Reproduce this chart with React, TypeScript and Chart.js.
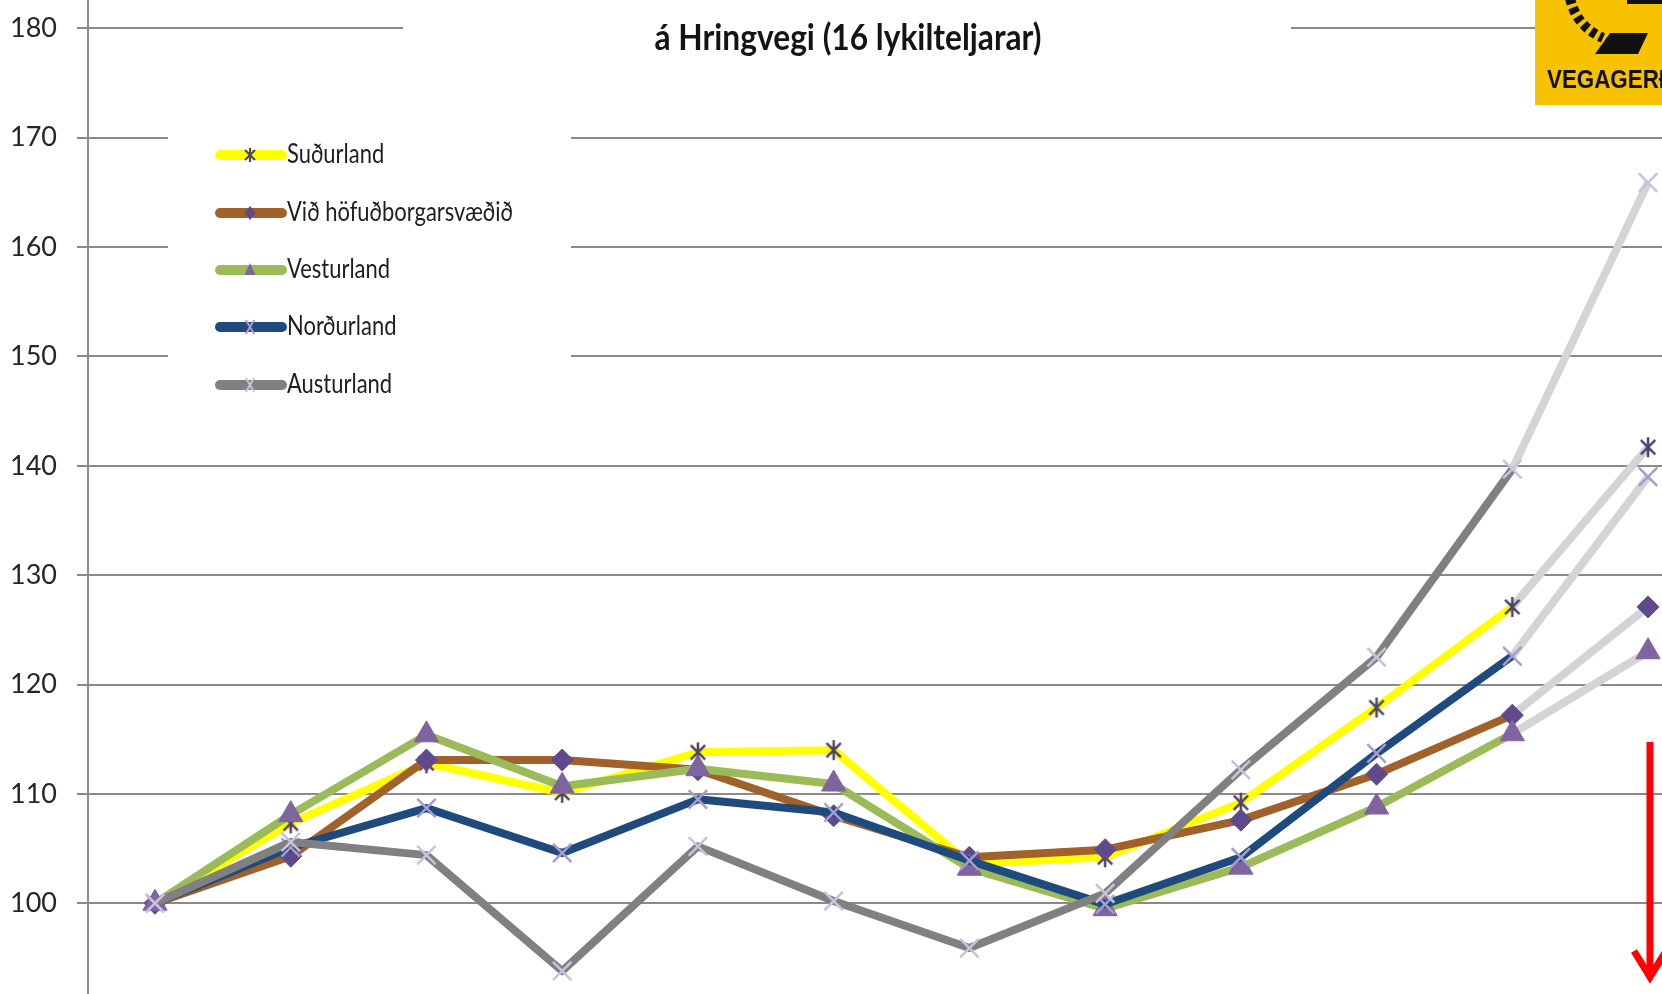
import React, { useEffect, useRef } from 'react';
import { Chart, registerables } from 'chart.js';

Chart.register(...registerables);

// ---- data ----
const categories = [0, 1, 2, 3, 4, 5, 6, 7, 8, 9, 10, 11]; // periods (axis labels cropped away)
const seriesNames = ['Suðurland', 'Við höfuðborgarsvæðið', 'Vesturland', 'Norðurland', 'Austurland'];
const sudurland = [100, 107.3, 112.8, 110.1, 113.8, 114.0, 103.6, 104.2, 109.2, 117.9, 127.1, 141.7];
const vidHofudborgarsvaedid = [100, 104.3, 113.1, 113.1, 112.2, 108.0, 104.2, 104.9, 107.6, 111.8, 117.2, 127.1];
const vesturland = [100, 108.1, 115.4, 110.7, 112.3, 110.9, 103.2, 99.5, 103.3, 108.8, 115.5, 123.0];
const nordurland = [100, 105.1, 108.7, 104.6, 109.5, 108.3, 103.9, 99.9, 104.2, 113.7, 122.6, 139.0];
const austurland = [100, 105.6, 104.4, 93.8, 105.2, 100.2, 95.9, 100.9, 112.2, 122.5, 139.7, 165.9];
const yTickValues = [100, 110, 120, 130, 140, 150, 160, 170, 180];
const titleText = 'á Hringvegi (16 lykilteljarar)';
const logoText = 'VEGAGERÐIN';

// ---- styles ----
const W = 1662;
const H = 994;
const lineColors = ['#FFFF00', '#A0612B', '#9BBB59', '#1F4A7E', '#808080'];
const markerColors = ['#4E4270', '#5F4A8B', '#8064A2', '#A79CCF', '#C9C2DC'];
const projColor = '#D4D4D4';
const gridColor = '#8A8A8A';

function makeStar(color: string, size: number, lw: number) {
  const c = document.createElement('canvas');
  c.width = size;
  c.height = size;
  const g = c.getContext('2d')!;
  g.strokeStyle = color;
  g.lineWidth = lw;
  const m = size / 2;
  const r = size / 2 - 2;
  const d = r * 0.72;
  g.beginPath();
  g.moveTo(m - d, m - d);
  g.lineTo(m + d, m + d);
  g.moveTo(m + d, m - d);
  g.lineTo(m - d, m + d);
  g.moveTo(m, m - r);
  g.lineTo(m, m + r);
  g.stroke();
  return c;
}

function drawMarker(ctx: CanvasRenderingContext2D, k: number, x: number, y: number, r: number) {
  ctx.save();
  ctx.fillStyle = markerColors[k];
  ctx.strokeStyle = markerColors[k];
  ctx.lineWidth = 2;
  ctx.beginPath();
  if (k === 0) {
    const d = r * 0.72;
    ctx.moveTo(x - d, y - d); ctx.lineTo(x + d, y + d);
    ctx.moveTo(x + d, y - d); ctx.lineTo(x - d, y + d);
    ctx.moveTo(x, y - r); ctx.lineTo(x, y + r);
    ctx.stroke();
  } else if (k === 1) {
    ctx.moveTo(x, y - r); ctx.lineTo(x + r * 0.8, y); ctx.lineTo(x, y + r); ctx.lineTo(x - r * 0.8, y);
    ctx.closePath();
    ctx.fill();
  } else if (k === 2) {
    ctx.moveTo(x, y - r); ctx.lineTo(x + r * 0.8, y + r * 0.7); ctx.lineTo(x - r * 0.8, y + r * 0.7);
    ctx.closePath();
    ctx.fill();
  } else {
    const d = r * 0.6;
    ctx.moveTo(x - d, y - r); ctx.lineTo(x + d, y + r);
    ctx.moveTo(x + d, y - r); ctx.lineTo(x - d, y + r);
    ctx.stroke();
  }
  ctx.restore();
}

function fitText(ctx: CanvasRenderingContext2D, text: string, x: number, y: number, targetW: number, align: CanvasTextAlign) {
  const w = ctx.measureText(text).width;
  const s = targetW / w;
  ctx.save();
  ctx.translate(x, y);
  ctx.scale(s, 1);
  ctx.textAlign = align;
  ctx.fillText(text, 0, 0);
  ctx.restore();
}

const overlayPlugin = {
  id: 'overlay',
  afterDraw(chart: any) {
    const ctx: CanvasRenderingContext2D = chart.ctx;
    ctx.save();

    // title block
    ctx.fillStyle = '#ffffff';
    ctx.fillRect(403, 0, 888, 64);
    ctx.fillStyle = '#141414';
    ctx.font = 'bold 36px Lato';
    ctx.textBaseline = 'alphabetic';
    fitText(ctx, titleText, 848, 50, 387, 'center');

    // legend block
    ctx.fillStyle = '#ffffff';
    ctx.fillRect(168, 95, 403, 330);
    const rowY = [155, 213, 270, 327, 385];
    ctx.font = '26px Lato';
    const refW = ctx.measureText(seriesNames[1]).width;
    const s = 226 / refW;
    seriesNames.forEach((name, k) => {
      const y = rowY[k];
      ctx.save();
      ctx.strokeStyle = lineColors[k];
      ctx.lineWidth = 10;
      ctx.lineCap = 'round';
      ctx.beginPath();
      ctx.moveTo(220, y);
      ctx.lineTo(282, y);
      ctx.stroke();
      ctx.restore();
      drawMarker(ctx, k, 250, y, 7);
      ctx.save();
      ctx.fillStyle = '#1e1e1e';
      ctx.font = '26px Lato';
      ctx.translate(287, y + 8);
      ctx.scale(s, 1);
      ctx.textAlign = 'left';
      ctx.fillText(name, 0, 0);
      ctx.restore();
    });

    // logo
    ctx.save();
    ctx.fillStyle = '#F7C300';
    ctx.fillRect(1535, 0, W - 1535, 105);
    ctx.beginPath();
    ctx.rect(1535, 0, W - 1535, 105);
    ctx.clip();
    ctx.strokeStyle = '#111111';
    ctx.lineWidth = 10;
    ctx.setLineDash([6, 4]);
    ctx.beginPath();
    ctx.moveTo(1570, -2);
    ctx.quadraticCurveTo(1576, 26, 1603, 38);
    ctx.stroke();
    ctx.setLineDash([]);
    ctx.fillStyle = '#111111';
    ctx.beginPath();
    ctx.moveTo(1610, 33);
    ctx.lineTo(1648, 33);
    ctx.lineTo(1638, 54);
    ctx.lineTo(1595, 54);
    ctx.closePath();
    ctx.fill();
    ctx.beginPath();
    ctx.moveTo(1627, 0);
    ctx.lineTo(W, 0);
    ctx.lineTo(W, 4);
    ctx.lineTo(1627, 4);
    ctx.closePath();
    ctx.fill();
    ctx.font = 'bold 26px "Liberation Sans"';
    ctx.save();
    ctx.translate(1547, 88);
    ctx.scale(0.86, 1);
    ctx.textAlign = 'left';
    ctx.fillText(logoText, 0, 0);
    ctx.restore();
    ctx.restore();

    // red arrow
    ctx.save();
    ctx.strokeStyle = '#FF0000';
    ctx.lineWidth = 7;
    ctx.beginPath();
    ctx.moveTo(1650, 742);
    ctx.lineTo(1650, 976);
    ctx.stroke();
    ctx.lineJoin = 'miter';
    ctx.beginPath();
    ctx.moveTo(1634, 951);
    ctx.lineTo(1650, 977);
    ctx.lineTo(1666, 951);
    ctx.stroke();
    ctx.restore();

    ctx.restore();
  },
};

export default function App() {
  const ref = useRef<HTMLCanvasElement | null>(null);

  useEffect(() => {
    if (!ref.current) return;
    const seriesValues = [sudurland, vidHofudborgarsvaedid, vesturland, nordurland, austurland];
    const star = makeStar(markerColors[0], 24, 2.5);
    const pointStyles: any[] = [star, 'rectRot', 'triangle', 'crossRot', 'crossRot'];
    const radii = [10, 11, 14, 13, 13];
    const last = categories.length - 1;

    const datasets = seriesNames.map((name, k) => ({
      label: name,
      data: categories.map((c, i) => ({ x: c, y: seriesValues[k][i] })),
      borderColor: lineColors[k],
      borderWidth: 8,
      borderJoinStyle: 'round' as const,
      pointStyle: pointStyles[k],
      pointRadius: radii[k],
      pointBackgroundColor: markerColors[k],
      pointBorderColor: markerColors[k],
      pointBorderWidth: k >= 3 ? 2.5 : 1,
      tension: 0,
      order: seriesNames.length - k,
      segment: {
        borderColor: (ctx: any) => (ctx.p1DataIndex === last ? projColor : undefined),
      },
    }));

    const chart = new Chart(ref.current, {
      type: 'line',
      data: { datasets },
      options: {
        animation: false,
        responsive: false,
        maintainAspectRatio: false,
        devicePixelRatio: 1,
        layout: { padding: 0, autoPadding: false },
        plugins: {
          legend: { display: false },
          tooltip: { enabled: false },
          title: { display: false },
        },
        scales: {
          x: {
            type: 'linear',
            min: -0.4936,
            max: 11.103,
            display: false,
          },
          y: {
            type: 'linear',
            min: 91.7,
            max: 182.6,
            afterBuildTicks: (scale: any) => {
              scale.ticks = yTickValues.map((v) => ({ value: v }));
            },
            afterFit: (scale: any) => {
              scale.width = 88;
              scale.paddingTop = 0;
              scale.paddingBottom = 0;
            },
            grid: {
              color: gridColor,
              lineWidth: 2,
              tickLength: 11,
              tickColor: gridColor,
            },
            border: { color: gridColor, width: 2 },
            ticks: {
              font: { family: 'Lato', size: 27 },
              color: '#262626',
              padding: 20,
            },
          },
        },
      },
      plugins: [overlayPlugin],
    });
    return () => chart.destroy();
  }, []);

  return (
    <div style={{ position: 'fixed', left: 0, top: 0, width: W, height: H, background: '#ffffff' }}>
      <canvas ref={ref} width={W} height={H} style={{ display: 'block', width: W, height: H }} />
    </div>
  );
}
